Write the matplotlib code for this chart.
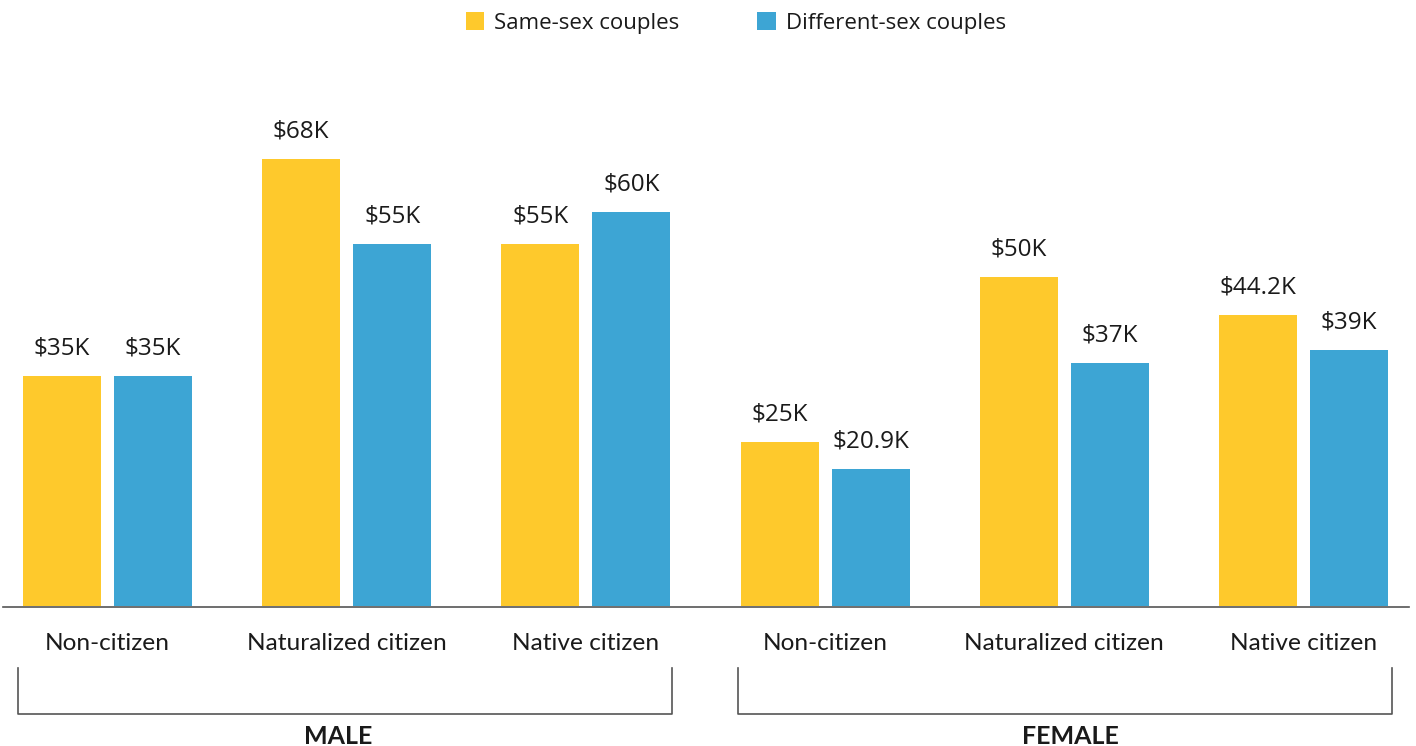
import matplotlib
matplotlib.use("Agg")
import matplotlib.pyplot as plt
from matplotlib.lines import Line2D
import numpy as np

# ---- data ----
categories = ["Non-citizen", "Naturalized citizen", "Native citizen",
              "Non-citizen", "Naturalized citizen", "Native citizen"]
groups = ["MALE", "FEMALE"]
series_names = ["Same-sex couples", "Different-sex couples"]
same_sex = [35, 68, 55, 25, 50, 44.2]
diff_sex = [35, 55, 60, 20.9, 37, 39]
same_labels = ["$35K", "$68K", "$55K", "$25K", "$50K", "$44.2K"]
diff_labels = ["$35K", "$55K", "$60K", "$20.9K", "$37K", "$39K"]

YELLOW = "#FEC92C"
BLUE = "#3DA5D4"
TXT = "#1a1a1a"

W, H = 1416, 746
fig = plt.figure(figsize=(W / 100, H / 100), dpi=100)
base_px = 606
ax = fig.add_axes([0, (H - base_px) / H, 1, base_px / H])

step = 239.2
c0 = 107.5
ax.set_xlim(-c0 / step, (W - c0) / step)
ax.set_ylim(0, base_px / 6.574)
ax.axis("off")

x = np.arange(len(categories))
bw = 78 / step
off = 45.5 / step
b1 = ax.bar(x - off, same_sex, bw, color=YELLOW, label=series_names[0])
b2 = ax.bar(x + off, diff_sex, bw, color=BLUE, label=series_names[1])

for bars, labs in ((b1, same_labels), (b2, diff_labels)):
    for rect, lab in zip(bars, labs):
        ax.annotate(lab, (rect.get_x() + rect.get_width() / 2, rect.get_height()),
                    xytext=(0, 15.5), textcoords="offset points", ha="center",
                    va="baseline", fontsize=17.5, family="Open Sans", color=TXT)

def fx(px):
    return px / W

def fy(py):
    return 1 - py / H

# baseline
fig.add_artist(Line2D([fx(3), fx(1409)], [fy(606.5), fy(606.5)], color="#555555", lw=1.2))

# category labels
for i, cat in enumerate(categories):
    xpx = c0 + i * step
    fig.text(fx(xpx), fy(650), cat, ha="center", va="baseline",
             fontsize=17.6, family="Lato", color=TXT)

# group brackets
brackets = [(18, 672), (738, 1392)]
label_centers = [338, 1070]
for (l, r), g, cx in zip(brackets, groups, label_centers):
    fig.add_artist(Line2D([fx(l), fx(l), fx(r), fx(r)],
                          [fy(668), fy(714), fy(714), fy(668)],
                          color="#555555", lw=1.2))
    fig.text(fx(cx), fy(744), g, ha="center", va="baseline",
             fontsize=18, family="Lato", weight="bold", color=TXT)

fig.legend(handles=[b1, b2], labels=series_names, loc="center",
           bbox_to_anchor=(fx(736), fy(23)), ncol=2, frameon=False,
           prop={"family": "Open Sans", "size": 16},
           handlelength=0.85, handleheight=0.85, handletextpad=0.45,
           columnspacing=3.5, labelcolor=TXT)

fig.savefig("out.png", dpi=100)
